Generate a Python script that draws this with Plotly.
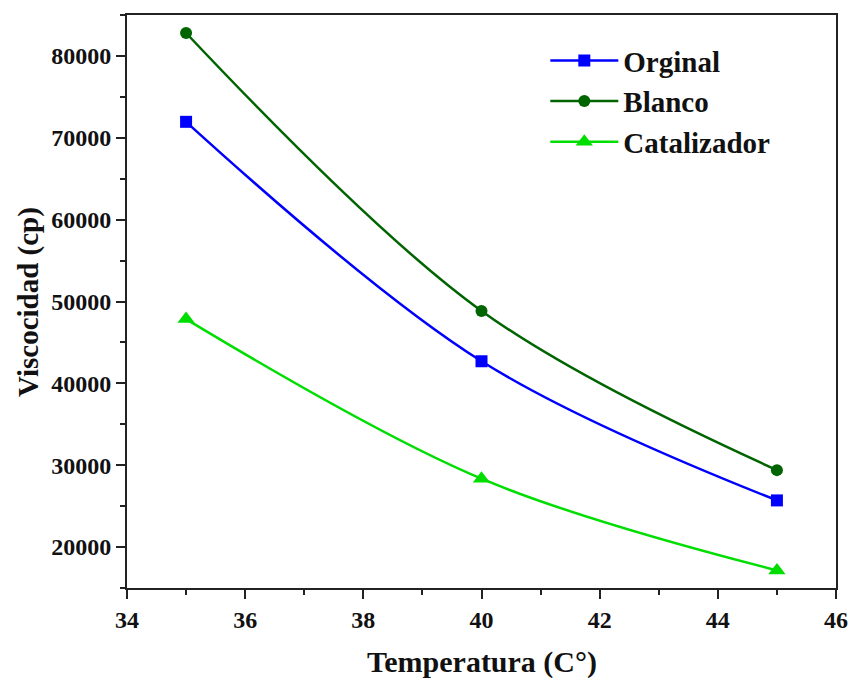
import plotly.graph_objects as go

# Viscosity (cp) versus temperature (°C) for the three samples
temperatura = [35, 40, 45]
orginal = [71950, 42700, 25700]
blanco = [82800, 48850, 29400]
catalizador = [47850, 28350, 17150]

series = [
    ("Orginal", orginal, "#0000FF", "square", 12),
    ("Blanco", blanco, "#006400", "circle", 12),
    ("Catalizador", catalizador, "#00DD00", "triangle-up", 15),
]

FONT = "Liberation Serif"

fig = go.Figure()
for name, values, color, symbol, msize in series:
    fig.add_trace(go.Scatter(
        x=temperatura, y=values, name=name, legendgroup=name,
        mode="lines+markers",
        line=dict(color=color, width=2.5, shape="spline", smoothing=1.0),
        marker=dict(symbol=symbol, size=msize, color=color),
    ))

axis_common = dict(
    showline=True, linecolor="#222", linewidth=2, mirror=True,
    ticks="outside", ticklen=9, tickwidth=2, tickcolor="#222",
    showgrid=False, zeroline=False, automargin=False,
    tickfont=dict(family=FONT, size=24, color="#111", weight="bold"),
)

fig.update_xaxes(
    range=[34, 46], tick0=34, dtick=2,
    minor=dict(ticks="outside", ticklen=5, tickwidth=2, tickcolor="#222", dtick=1),
    **axis_common,
)
fig.update_yaxes(
    range=[15000, 85000], tick0=20000, dtick=10000, tickformat="d",
    minor=dict(ticks="outside", ticklen=5, tickwidth=2, tickcolor="#222", dtick=5000, tick0=15000),
    **axis_common,
)

fig.add_annotation(
    text="<b>Temperatura (C°)</b>", xref="paper", yref="paper",
    x=0.5, y=-0.13, xanchor="center", yanchor="middle", showarrow=False,
    font=dict(family=FONT, size=30, color="#111"),
)
fig.add_annotation(
    text="<b>Viscocidad (cp)</b>", xref="paper", yref="paper",
    x=-0.139, y=0.5, xanchor="center", yanchor="middle", showarrow=False,
    textangle=-90, font=dict(family=FONT, size=29, color="#111"),
)

fig.update_layout(
    width=850, height=678,
    margin=dict(l=127, r=14, t=15, b=90),
    paper_bgcolor="white", plot_bgcolor="white",
    showlegend=True,
    legend=dict(
        x=0.59, y=0.965, xanchor="left", yanchor="top",
        bgcolor="rgba(0,0,0,0)", itemwidth=68, tracegroupgap=0,
        font=dict(family=FONT, size=29, color="#111", weight="bold"),
    ),
    font=dict(family=FONT),
)

fig.write_html("out.html")
